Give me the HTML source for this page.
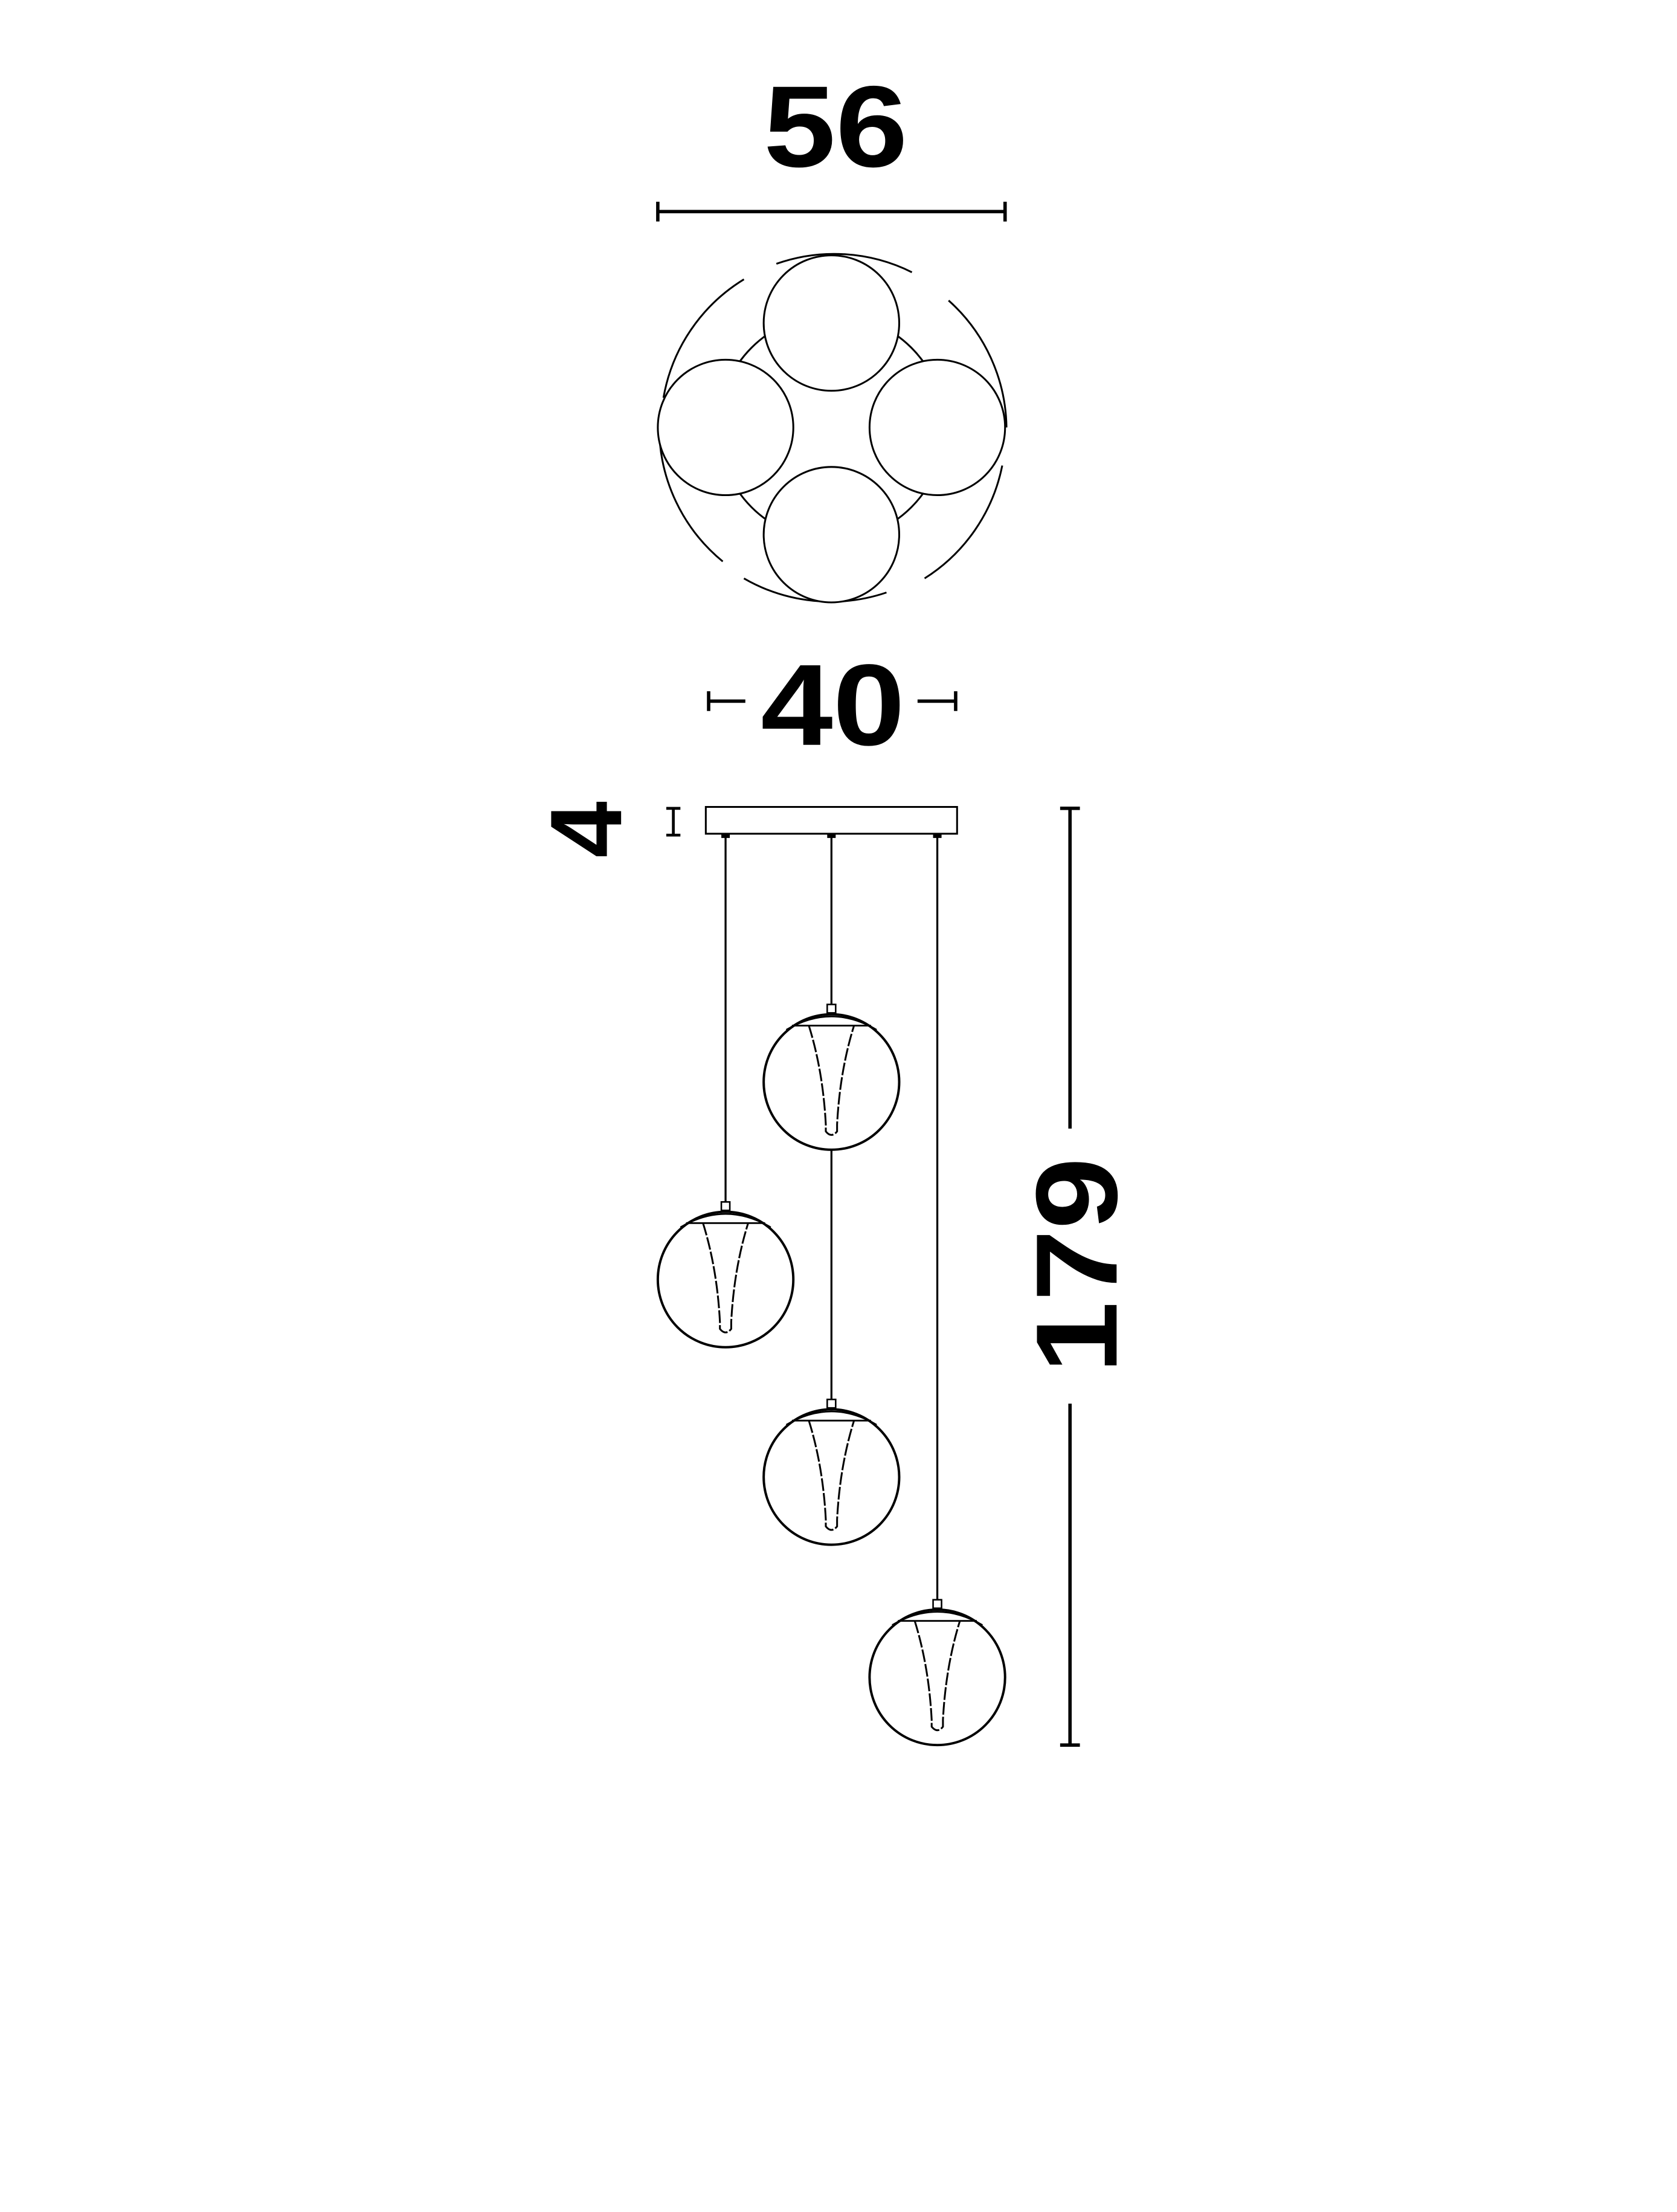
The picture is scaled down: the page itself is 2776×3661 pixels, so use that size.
<!DOCTYPE html>
<html><head><meta charset="utf-8"><style>
html,body{margin:0;padding:0;background:#fff}
svg{display:block}
text{font-family:"Liberation Sans",sans-serif;font-weight:bold;fill:#000}
</style></head><body>
<svg width="2776" height="3661" viewBox="0 0 1188 1568" preserveAspectRatio="none" xmlns="http://www.w3.org/2000/svg">
<rect width="1188" height="1568" fill="#fff"/>
<text x="592" y="118" font-size="82" text-anchor="middle" transform="translate(592 0) scale(1.12 1) translate(-592 0)">56</text>
<g stroke="#000" stroke-width="2.4" fill="none">
<line x1="466" y1="150" x2="712" y2="150"/>
<line x1="466" y1="143" x2="466" y2="157"/>
<line x1="712" y1="143" x2="712" y2="157"/>
</g>
<g stroke="#000" stroke-width="1.3" fill="none">
<path d="M 550 187 A 123 123 0 0 1 646 193"/>
<path d="M 672 213 A 123 123 0 0 1 713 303"/>
<path d="M 710 330 A 123 123 0 0 1 655 410"/>
<path d="M 628 420 A 123 123 0 0 1 527 410"/>
<path d="M 512 398 A 123 123 0 0 1 467 303"/>
<path d="M 470 282 A 123 123 0 0 1 527 198"/>
<circle cx="589" cy="303" r="80"/>
</g>
<g stroke="#000" stroke-width="1.3" fill="#fff">
<circle cx="589" cy="229" r="48"/>
<circle cx="514" cy="303" r="48"/>
<circle cx="664" cy="303" r="48"/>
<circle cx="589" cy="379" r="48"/>
</g>
<text x="590" y="528" font-size="82" text-anchor="middle" transform="translate(590 0) scale(1.12 1) translate(-590 0)">40</text>
<g stroke="#000" stroke-width="2.4" fill="none">
<line x1="502" y1="497" x2="528" y2="497"/>
<line x1="502" y1="490" x2="502" y2="504"/>
<line x1="650" y1="497" x2="677" y2="497"/>
<line x1="677" y1="490" x2="677" y2="504"/>
</g>
<text transform="translate(440 588) rotate(-90)" font-size="72" text-anchor="middle">4</text>
<g stroke="#000" stroke-width="2" fill="none">
<line x1="477" y1="573" x2="477" y2="592"/>
<line x1="472" y1="573" x2="482" y2="573"/>
<line x1="472" y1="592" x2="482" y2="592"/>
</g>
<rect x="500" y="572" width="178" height="19" fill="none" stroke="#000" stroke-width="1.3"/>
<g stroke="#000" stroke-width="1.4">
<line x1="514" y1="591" x2="514" y2="853"/>
<line x1="589" y1="591" x2="589" y2="714"/>
<line x1="589" y1="815" x2="589" y2="994"/>
<line x1="664" y1="591" x2="664" y2="1135"/>
</g>
<g fill="#000"><rect x="511" y="591" width="6" height="3"/><rect x="586" y="591" width="6" height="3"/><rect x="661" y="591" width="6" height="3"/></g>
<defs>
<g id="globe" stroke="#000" fill="none">
<circle cx="0" cy="0" r="48" stroke-width="1.7"/>
<rect x="-3" y="-55" width="6" height="6" stroke-width="1.1" fill="#fff"/>
<path d="M -32 -37 Q 0 -56 32 -37" stroke-width="1.2"/>
<line x1="-28" y1="-40" x2="28" y2="-40" stroke-width="1.2"/>
<path d="M -16 -40 Q -6 -8 -4 30 L -4 35 Q 0 40 4 35 L 4 30 Q 6 -8 16 -40" stroke-width="1.3" stroke-dasharray="9 1.5"/>
</g>
</defs>
<use href="#globe" x="589" y="767"/>
<use href="#globe" x="514" y="907"/>
<use href="#globe" x="589" y="1047"/>
<use href="#globe" x="664" y="1189"/>
<g stroke="#000" stroke-width="2.4" fill="none">
<line x1="758" y1="573" x2="758" y2="800"/>
<line x1="758" y1="995" x2="758" y2="1237"/>
<line x1="751" y1="573" x2="765" y2="573"/>
<line x1="751" y1="1237" x2="765" y2="1237"/>
</g>
<text transform="translate(791 897) rotate(-90) scale(1.12 1)" font-size="82" text-anchor="middle">179</text>
</svg>
</body></html>
